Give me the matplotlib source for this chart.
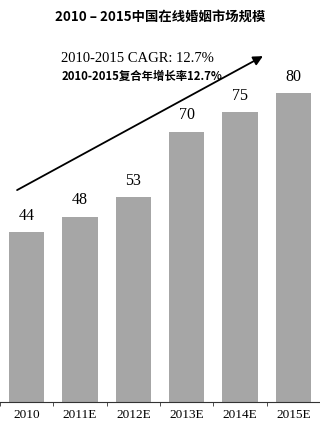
import matplotlib.pyplot as plt
import numpy as np

years = ['2010', '2011E', '2012E', '2013E', '2014E', '2015E']
values = [44, 48, 53, 70, 75, 80]

fig = plt.figure(figsize=(3.2, 4.23), dpi=100)
ax = fig.add_axes([0, 21 / 423, 1, 386 / 423])

x = np.arange(len(years))
ax.bar(x, values, width=0.66, color='#a6a6a6')
for xi, v in zip(x, values):
    ax.text(xi, v + 2.2, str(v), ha='center', va='bottom',
            fontsize=11.5, family='Liberation Serif')

ax.set_xlim(-0.5, 5.5)
ax.set_ylim(0, 100)
ax.set_yticks([])
for s in ['top', 'left', 'right']:
    ax.spines[s].set_visible(False)
ax.spines['bottom'].set_color('#333333')
ax.set_xticks(x)
ax.set_xticklabels(years, family='Liberation Serif', fontsize=9.5)
ax.tick_params(axis='x', which='major', length=0, pad=5)
ax.set_xticks(np.arange(-0.5, 6, 1), minor=True)
ax.tick_params(axis='x', which='minor', length=3, color='#333333')

# 增长箭头
ax.annotate('', xy=(4.43, 89.6), xytext=(-0.18, 54.9),
            arrowprops=dict(arrowstyle='-|>', color='black', lw=1.3,
                            mutation_scale=14, shrinkA=0, shrinkB=0))

fig.text(0.5, 1 - 17 / 423, '2010 – 2015中国在线婚姻市场规模', ha='center', va='center',
         fontsize=9.6, fontweight='bold', family=['Noto Sans CJK SC', 'DejaVu Sans'])
fig.text(137 / 320, 1 - 59 / 423, '2010-2015 CAGR: 12.7%', ha='center', va='center',
         fontsize=10.5, family='Liberation Serif')
fig.text(142 / 320, 1 - 76 / 423, '2010-2015复合年增长率12.7%', ha='center', va='center',
         fontsize=8.2, fontweight='bold', family=['Noto Sans CJK SC', 'DejaVu Sans'])

fig.savefig('out.png', dpi=100)
